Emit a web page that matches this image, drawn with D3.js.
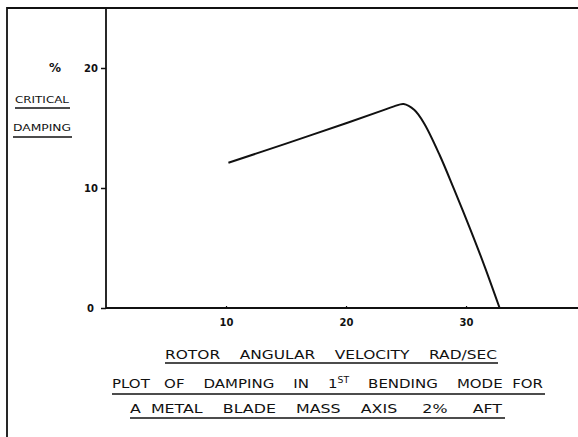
<!DOCTYPE html>
<html>
<head>
<meta charset="utf-8">
<script src="https://cdn.jsdelivr.net/npm/d3@7"></script>
<style>
  body { margin: 0; background: #fff; }
  svg { display: block; }
  text { font-family: "DejaVu Sans", sans-serif; fill: #111; }
</style>
</head>
<body>
<svg id="chart" width="578" height="437"></svg>
<script>
// rotor angular velocity (rad/sec) vs % critical damping
const velocity = [10.2, 15, 20, 23, 24, 24.8, 25.7, 26.5, 27.8, 29, 30.3, 31.5, 32.8]
const damping  = [12.1, 13.7, 15.4, 16.45, 16.8, 17.0, 16.5, 15.4, 12.75, 9.9, 6.7, 3.6, 0]

const xTicks = [10, 20, 30]
const yTicks = [0, 10, 20]

const titleLines = [
    "ROTOR    ANGULAR    VELOCITY    RAD/SEC",
    "PLOT   OF    DAMPING    IN    1ST    BENDING    MODE  FOR",
    "A  METAL    BLADE    MASS    AXIS     2%     AFT"
]
const yLabel = ["%", "CRITICAL", "DAMPING"]

const points = velocity.map((v, i) => ({ x: v, y: damping[i] }))

const svg = d3.select('#chart')
const margin = { top: 8, left: 106 }
const plotBottom = 308

const x = d3.scaleLinear().domain([0, 39.33]).range([margin.left, 578])
const y = d3.scaleLinear().domain([0, 25]).range([plotBottom, margin.top])

// page frame (top and left edges)
svg.append('path')
    .attr('d', `M7,437 V8 H578`)
    .attr('fill', 'none')
    .attr('stroke', '#111')
    .attr('stroke-width', 1.8)

// axes
const yAxis = d3.axisLeft(y).tickValues(yTicks).tickSize(5).tickPadding(3).tickFormat(d3.format('d'))
const xAxis = d3.axisBottom(x).tickValues(xTicks).tickSizeInner(-2).tickSizeOuter(0).tickFormat(d3.format('d'))

const yG = svg.append('g').attr('transform', `translate(${margin.left},0)`).call(yAxis)
yG.select('.domain').remove()
yG.selectAll('.tick line').attr('stroke', '#111').attr('stroke-width', 1.5)
yG.selectAll('.tick text').style('font-size', '10px').style('font-weight', 'bold')
yG.selectAll('.tick').filter(d => d === 0).select('text').attr('x', -12)

const xG = svg.append('g').attr('transform', `translate(0,${plotBottom})`).call(xAxis)
xG.select('.domain').remove()
xG.selectAll('.tick line').attr('stroke', '#111').attr('stroke-width', 1.2)
xG.selectAll('.tick text').attr('y', 11).style('font-size', '10px').style('font-weight', 'bold')

// axis lines
svg.append('line')
    .attr('x1', x(0)).attr('x2', x(0))
    .attr('y1', y(25)).attr('y2', y(0))
    .attr('stroke', '#111').attr('stroke-width', 1.8)
svg.append('line')
    .attr('x1', x(0)).attr('x2', 578)
    .attr('y1', y(0)).attr('y2', y(0))
    .attr('stroke', '#111').attr('stroke-width', 1.8)

// damping curve
const line = d3.line()
    .x(d => x(d.x))
    .y(d => y(d.y))
    .curve(d3.curveCatmullRom.alpha(0.5))

svg.append('path')
    .datum(points)
    .attr('d', line)
    .attr('fill', 'none')
    .attr('stroke', '#111')
    .attr('stroke-width', 2)

// y label
svg.append('text').attr('x', 55).attr('y', 72).attr('text-anchor', 'middle')
    .style('font-size', '12px').style('font-weight', 'bold').text(yLabel[0])

const yLab = [
    { t: yLabel[1], x: 15, y: 103, w: 54, uy: 108 },
    { t: yLabel[2], x: 13, y: 131, w: 58, uy: 137 }
]
yLab.forEach(d => {
    svg.append('text').attr('x', d.x).attr('y', d.y)
        .attr('textLength', d.w).attr('lengthAdjust', 'spacingAndGlyphs')
        .style('font-size', '9px').text(d.t)
    svg.append('line').attr('x1', d.x).attr('x2', d.x + d.w + 1)
        .attr('y1', d.uy).attr('y2', d.uy)
        .attr('stroke', '#111').attr('stroke-width', 1.3)
})

// title block
const titles = [
    { x: 165, y: 359, w: 332, uy: 363, ux2: 498 },
    { x: 112, y: 388, w: 431, uy: 394, ux2: 545 },
    { x: 130, y: 413, w: 372, uy: 418, ux2: 505 }
]
titles.forEach((d, i) => {
    const t = svg.append('text').attr('x', d.x).attr('y', d.y)
        .attr('textLength', d.w).attr('lengthAdjust', 'spacingAndGlyphs')
        .style('font-size', '13px').style('white-space', 'pre')
    if (i === 1) {
        const parts = titleLines[1].split('1ST')
        t.append('tspan').text(parts[0] + '1')
        t.append('tspan').attr('dy', -5).style('font-size', '8px').text('ST')
        t.append('tspan').attr('dy', 5).text(parts[1])
    } else {
        t.text(titleLines[i])
    }
    svg.append('line').attr('x1', d.x).attr('x2', d.ux2)
        .attr('y1', d.uy).attr('y2', d.uy)
        .attr('stroke', '#111').attr('stroke-width', 1.3)
})
</script>
</body>
</html>
